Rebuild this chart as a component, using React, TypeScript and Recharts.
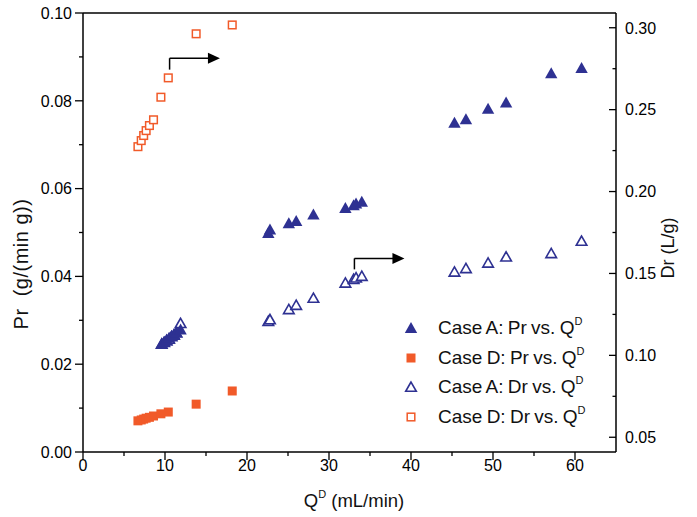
import React from 'react';
import { ScatterChart, Scatter, XAxis, YAxis, ReferenceLine, Legend } from 'recharts';

const BLUE = '#2e3192';
const ORANGE = '#f15a29';
const FONT = '"Liberation Sans", Arial, sans-serif';

// Case A: flow rate QD, productivity Pr and Dr
const caseAQ = [9.6, 9.9, 10.2, 10.5, 10.8, 11.1, 11.4, 11.9, 22.6, 22.8, 25.1, 26.0, 28.1, 32.0, 33.0, 33.3, 34.0, 45.3, 46.7, 49.4, 51.6, 57.1, 60.8];
const caseAPr = [0.0247, 0.0251, 0.0256, 0.026, 0.0265, 0.0269, 0.0273, 0.0279, 0.0499, 0.0507, 0.0521, 0.0526, 0.0541, 0.0556, 0.0562, 0.0566, 0.057, 0.075, 0.0758, 0.0782, 0.0796, 0.0863, 0.0875];
const caseADr = [0.107, 0.108, 0.109, 0.11, 0.1115, 0.1125, 0.1138, 0.1196, 0.1209, 0.1219, 0.1281, 0.1307, 0.135, 0.1443, 0.1465, 0.1474, 0.1484, 0.151, 0.1531, 0.1565, 0.1602, 0.1623, 0.1698];

// Case D
const caseDQ = [6.7, 7.1, 7.4, 7.7, 8.1, 8.6, 9.5, 10.4, 13.8, 18.2];
const caseDPr = [0.0071, 0.0073, 0.0075, 0.0077, 0.0079, 0.0082, 0.0087, 0.0091, 0.0109, 0.0139];
const caseDDr = [0.2274, 0.2311, 0.2342, 0.2372, 0.2403, 0.2438, 0.2576, 0.2694, 0.2963, 0.3017];

// axes
const xTicks = [0, 5, 10, 15, 20, 25, 30, 35, 40, 45, 50, 55, 60];
const prTicks = [0, 0.01, 0.02, 0.03, 0.04, 0.05, 0.06, 0.07, 0.08, 0.09, 0.1];
const drTicks = [0.05, 0.075, 0.1, 0.125, 0.15, 0.175, 0.2, 0.225, 0.25, 0.275, 0.3];

// arrows pointing to the right axis (left-axis units): corner, start, tip
const arrowD = { q: [10.56, 16.7], pr: [0.0871, 0.0897] };
const arrowA = { q: [33.1, 39.2], pr: [0.0416, 0.0441] };

const legendItems = [
  { label: 'Case A: Pr vs. Q', marker: 'triFilled' },
  { label: 'Case D: Pr vs. Q', marker: 'sqFilled' },
  { label: 'Case A: Dr vs. Q', marker: 'triOpen' },
  { label: 'Case D: Dr vs. Q', marker: 'sqOpen' },
];

const toPoints = (xs: number[], ys: number[]) => xs.map((x, i) => ({ x, y: ys[i] }));

const triFilled = ({ cx, cy }: any) => (
  <polygon points={`${cx},${cy - 6} ${cx - 6.2},${cy + 5} ${cx + 6.2},${cy + 5}`} fill={BLUE} />
);
const triOpen = ({ cx, cy }: any) => (
  <polygon points={`${cx},${cy - 5} ${cx - 5.3},${cy + 4.3} ${cx + 5.3},${cy + 4.3}`} fill="#fff" stroke={BLUE} strokeWidth={1.6} />
);
const sqFilled = ({ cx, cy }: any) => <rect x={cx - 4.5} y={cy - 4.5} width={9} height={9} fill={ORANGE} />;
const sqOpen = ({ cx, cy }: any) => (
  <rect x={cx - 3.8} y={cy - 3.8} width={7.6} height={7.6} fill="#fff" stroke={ORANGE} strokeWidth={1.5} />
);
const markers: Record<string, (p: any) => React.ReactElement> = { triFilled, triOpen, sqFilled, sqOpen };

const tickText = { fontFamily: FONT, fontSize: 16, fill: '#000' };

const BottomTick = ({ x, y, payload }: any) => {
  const major = payload.value % 10 === 0;
  return (
    <g>
      <line x1={x} y1={y} x2={x} y2={y + (major ? 8 : 4)} stroke="#000" strokeWidth={1.3} />
      {major && (
        <text x={x} y={y + 19} textAnchor="middle" {...tickText}>
          {payload.value}
        </text>
      )}
    </g>
  );
};

const TopTick = ({ x, y, payload }: any) => {
  const major = payload.value % 10 === 0;
  return <line x1={x} y1={y} x2={x} y2={y + (major ? 5 : 3)} stroke="#000" strokeWidth={1.3} />;
};

const LeftTick = ({ x, y, payload }: any) => {
  const major = Math.round(payload.value * 100) % 2 === 0;
  return (
    <g>
      <line x1={x} y1={y} x2={x - (major ? 8 : 4)} y2={y} stroke="#000" strokeWidth={1.3} />
      {major && (
        <text x={x - 11} y={y} dy="0.36em" textAnchor="end" {...tickText}>
          {payload.value.toFixed(2)}
        </text>
      )}
    </g>
  );
};

const RightTick = ({ x, y, payload }: any) => {
  const major = Math.round(payload.value * 1000) % 50 === 0;
  return (
    <g>
      <line x1={x} y1={y} x2={x - (major ? 7 : 3.5)} y2={y} stroke="#000" strokeWidth={1.3} />
      {major && (
        <text x={x + 9} y={y} dy="0.36em" textAnchor="start" {...tickText}>
          {payload.value.toFixed(2)}
        </text>
      )}
    </g>
  );
};

const ArrowShape = (props: any) => {
  const { x1, y1, x2, y2 } = props;
  return (
    <g>
      <line x1={x1} y1={y1} x2={x2 - 10} y2={y2} stroke="#000" strokeWidth={1.5} />
      <polygon points={`${x2},${y2} ${x2 - 12},${y2 - 5.5} ${x2 - 12},${y2 + 5.5}`} fill="#000" />
    </g>
  );
};

const LegendBox = () => (
  <div style={{ fontFamily: FONT, fontSize: 19, color: '#111', wordSpacing: -1 }}>
    {legendItems.map((it) => {
      const M = markers[it.marker];
      return (
        <div key={it.label} style={{ display: 'flex', alignItems: 'center', height: 29.7 }}>
          <svg width={30} height={20} style={{ marginRight: 12 }}>
            <M cx={15} cy={10} />
          </svg>
          <span>
            {it.label}
            <sup style={{ fontSize: 11, verticalAlign: 0, position: 'relative', top: -9 }}>D</sup>
          </span>
        </div>
      );
    })}
  </div>
);

export default function App() {
  const aPr = toPoints(caseAQ, caseAPr);
  const aDr = toPoints(caseAQ, caseADr);
  const dPr = toPoints(caseDQ, caseDPr);
  const dDr = toPoints(caseDQ, caseDDr);
  const axisLine = { stroke: '#000', strokeWidth: 1.5 };

  return (
    <div style={{ position: 'absolute', left: 0, top: 0, background: '#fff' }}>
      <ScatterChart width={697} height={517} margin={{ top: 12, right: 80, bottom: 64, left: 82 }}>
        <XAxis xAxisId="bottom" dataKey="x" type="number" domain={[0, 65]} ticks={xTicks} height={1}
          tickSize={0} tickMargin={0} tickLine={false} axisLine={axisLine} tick={<BottomTick />} interval={0} />
        <XAxis xAxisId="top" orientation="top" dataKey="x" type="number" domain={[0, 65]} ticks={xTicks} height={1}
          tickSize={0} tickMargin={0} tickLine={false} axisLine={axisLine} tick={<TopTick />} interval={0} />
        <YAxis yAxisId="left" dataKey="y" type="number" domain={[0, 0.1]} ticks={prTicks} width={1}
          tickSize={0} tickMargin={0} tickLine={false} axisLine={axisLine} tick={<LeftTick />} interval={0} />
        <YAxis yAxisId="right" orientation="right" dataKey="y" type="number" domain={[0.041, 0.309]} ticks={drTicks} width={1}
          tickSize={0} tickMargin={0} tickLine={false} axisLine={axisLine} tick={<RightTick />} interval={0} />

        <ReferenceLine xAxisId="bottom" yAxisId="left" stroke="#000" strokeWidth={1.5}
          segment={[{ x: arrowD.q[0], y: arrowD.pr[0] }, { x: arrowD.q[0], y: arrowD.pr[1] }]} />
        <ReferenceLine xAxisId="bottom" yAxisId="left" shape={ArrowShape}
          segment={[{ x: arrowD.q[0], y: arrowD.pr[1] }, { x: arrowD.q[1], y: arrowD.pr[1] }]} />
        <ReferenceLine xAxisId="bottom" yAxisId="left" stroke="#000" strokeWidth={1.5}
          segment={[{ x: arrowA.q[0], y: arrowA.pr[0] }, { x: arrowA.q[0], y: arrowA.pr[1] }]} />
        <ReferenceLine xAxisId="bottom" yAxisId="left" shape={ArrowShape}
          segment={[{ x: arrowA.q[0], y: arrowA.pr[1] }, { x: arrowA.q[1], y: arrowA.pr[1] }]} />

        <Scatter name="Case A: Dr vs. QD" data={aDr} xAxisId="bottom" yAxisId="right" shape={triOpen} isAnimationActive={false} />
        <Scatter name="Case D: Dr vs. QD" data={dDr} xAxisId="bottom" yAxisId="right" shape={sqOpen} isAnimationActive={false} />
        <Scatter name="Case A: Pr vs. QD" data={aPr} xAxisId="bottom" yAxisId="left" shape={triFilled} isAnimationActive={false} />
        <Scatter name="Case D: Pr vs. QD" data={dPr} xAxisId="bottom" yAxisId="left" shape={sqFilled} isAnimationActive={false} />

        <Legend content={<LegendBox />} layout="horizontal" verticalAlign="middle" align="center"
          wrapperStyle={{ left: 396, top: 313, width: 260 }} />

        <text x={28} y={264} transform="rotate(-90 28 264)" textAnchor="middle" fontFamily={FONT} fontSize={20}
          letterSpacing={0.5} fill="#111" style={{ whiteSpace: 'pre' }}>
          {'Pr  (g/(min g))'}
        </text>
        <text x={674} y={248} transform="rotate(-90 674 248)" textAnchor="middle" fontFamily={FONT} fontSize={18} fill="#111">
          Dr (L/g)
        </text>
        <text x={354} y={507} textAnchor="middle" fontFamily={FONT} fontSize={18.5} fill="#111">
          Q<tspan fontSize={11} dy={-9}>D</tspan>
          <tspan dy={9}> (mL/min)</tspan>
        </text>
      </ScatterChart>
    </div>
  );
}
